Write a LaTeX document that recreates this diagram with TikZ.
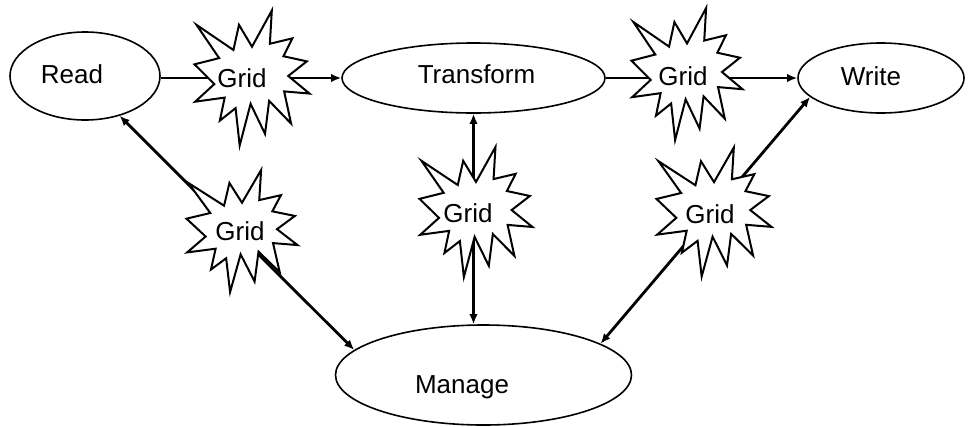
\documentclass[tikz,border=0pt]{standalone}
\usepackage{fontspec}
\setmainfont{Liberation Sans}
\usetikzlibrary{arrows.meta,shapes.geometric,calc}
\tikzset{
  oval/.style={draw, ellipse, line width=1.6pt, inner sep=0pt, fill=white},
  lbl/.style={font=\fontsize{26}{30}\selectfont, anchor=base, inner sep=0pt},
  burst/.style={draw, fill=white, line width=2pt, line join=miter},
  link/.style={line width=2.8pt},
  tip/.style={-{Latex[length=10pt,width=8.5pt]}},
  dbl/.style={{Latex[length=10pt,width=8.5pt]}-{Latex[length=10pt,width=8.5pt]}},
}
\newcommand\drawburst[3]{%
  \filldraw[burst, shift={(#1)}, xscale=#2/216, yscale=#3/216, shift={(-108,-108)}]
    (108,58) -- (145.22,0) -- (141.55,53.25) -- (183.80,44.57) -- (167.02,73.15)
    -- (210.97,81.37) -- (176.07,104.75) -- (216,132.9) -- (168.37,129.42)
    -- (181.45,180.95) -- (140.20,144.57) -- (132.47,197.37) -- (105.32,149.35)
    -- (84.85,216) -- (77.15,156.27) -- (47.62,176.17) -- (56.67,139.37)
    -- (1.35,145.87) -- (37.22,117.75) -- (0,86.15) -- (46.27,76.17)
    -- (3.70,22.95) -- (73.12,63.20) -- (83.52,22.95) -- cycle;}
\begin{document}
\begin{tikzpicture}[x=1pt,y=-1pt]
\useasboundingbox (0,0) rectangle (968,426);
% ovals
\node[oval, minimum width=150pt, minimum height=88pt] (read) at (85,76) {};
\node[oval, minimum width=263pt, minimum height=70pt] (transform) at (473.5,78) {};
\node[oval, minimum width=166pt, minimum height=70pt] (write) at (881,78) {};
\node[oval, minimum width=296pt, minimum height=100pt] (manage) at (483.5,375) {};
% burst centres
\coordinate (b1) at (252,78);
\coordinate (b2) at (687,78);
\coordinate (b2c) at (687,74);
\coordinate (b3) at (476,212);
\coordinate (b4) at (242,231);
\coordinate (b5) at (714,212);
% connectors
\draw[link] (read.east |- b1) -- (b1);
\draw[link, tip] (b1) -- (transform.west);
\draw[link] (transform.east) -- (b2);
\draw[link, tip] (b2) -- (write.west);
\draw[link, dbl] (transform.south) -- (transform.south |- manage.north);
\draw[link, dbl] (read.-49) -- (manage.169);
\draw[link, dbl] (write.195) -- (manage.15);
% bursts
\drawburst{b1}{115}{135}
\drawburst{b2c}{111}{132}
\drawburst{b3}{113}{130}
\drawburst{b4}{111}{122}
\drawburst{b5}{115}{129}
% texts
\node[lbl] (readtxt) at (72,83) {Read};
\node[lbl] (transformtxt) at (476.5,83) {Transform};
\node[lbl] (writetxt) at (871,85) {Write};
\node[lbl] (managetxt) at (462,393) {Manage};
\node[lbl] (g1) at (242,87) {Grid};
\node[lbl] (g2) at (683,85) {Grid};
\node[lbl] (g3) at (468,222) {Grid};
\node[lbl] (g4) at (240,240) {Grid};
\node[lbl] (g5) at (710,223) {Grid};
\end{tikzpicture}
\end{document}
